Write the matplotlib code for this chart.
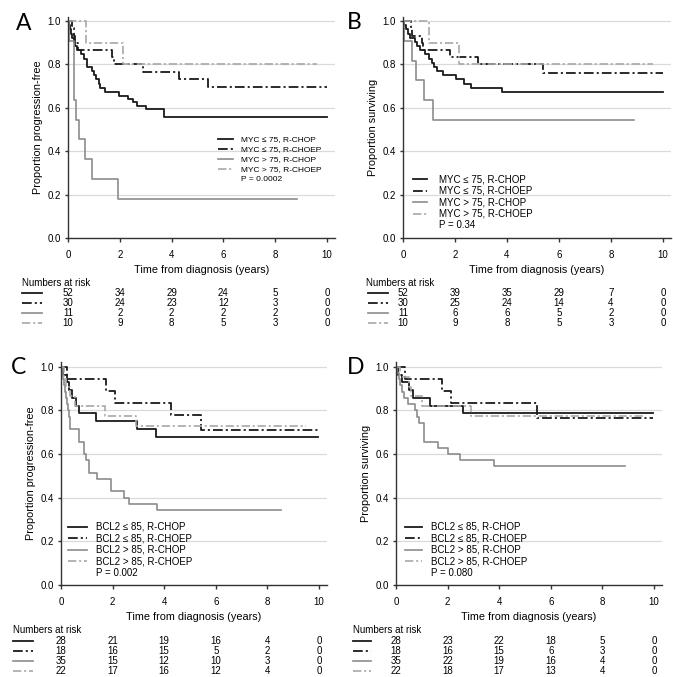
import matplotlib
matplotlib.use('Agg')
import matplotlib.pyplot as plt
from matplotlib.lines import Line2D
from matplotlib.transforms import blended_transform_factory

plt.rcParams['font.family'] = ['Liberation Sans', 'DejaVu Sans']
plt.rcParams['lines.scale_dashes'] = False

W, H = 673, 677

years = [0, 2, 4, 6, 8, 10]

# Panel A: MYC, progression-free survival
a_lo_chop_t = [0, 0.03, 0.07, 0.12, 0.17, 0.22, 0.28, 0.34, 0.5, 0.6, 0.74, 0.94, 1.0, 1.1, 1.18, 1.25, 1.42, 1.97, 2.32, 2.5, 2.65, 3.0, 3.72, 10.0]
a_lo_chop_s = [1.0, 0.981, 0.962, 0.942, 0.923, 0.904, 0.885, 0.865, 0.846, 0.827, 0.788, 0.769, 0.750, 0.731, 0.712, 0.692, 0.673, 0.655, 0.640, 0.625, 0.610, 0.595, 0.557, 0.557]
a_lo_choep_t = [0, 0.15, 0.22, 0.28, 0.38, 1.69, 1.78, 2.9, 4.28, 5.42, 10.0]
a_lo_choep_s = [1.0, 0.967, 0.933, 0.9, 0.867, 0.833, 0.8, 0.767, 0.733, 0.695, 0.695]
a_hi_chop_t = [0, 0.02, 0.22, 0.32, 0.41, 0.67, 0.93, 1.94, 8.84]
a_hi_chop_s = [1.0, 0.909, 0.636, 0.545, 0.455, 0.364, 0.273, 0.182, 0.182]
a_hi_choep_t = [0, 0.69, 2.13, 9.6]
a_hi_choep_s = [1.0, 0.9, 0.8, 0.8]
a_risk = [[52, 34, 29, 24, 5, 0], [30, 24, 23, 12, 3, 0], [11, 2, 2, 2, 2, 0], [10, 9, 8, 5, 3, 0]]

# Panel B: MYC, overall survival
b_lo_chop_t = [0, 0.05, 0.12, 0.2, 0.28, 0.45, 0.55, 0.65, 0.85, 1.0, 1.12, 1.18, 1.3, 1.55, 2.05, 2.35, 2.62, 3.8, 10.0]
b_lo_chop_s = [1.0, 0.981, 0.962, 0.942, 0.923, 0.904, 0.885, 0.865, 0.846, 0.827, 0.808, 0.788, 0.769, 0.750, 0.731, 0.712, 0.692, 0.673, 0.673]
b_lo_choep_t = [0, 0.3, 0.33, 0.72, 0.76, 1.8, 2.9, 5.4, 10.0]
b_lo_choep_s = [1.0, 0.967, 0.933, 0.9, 0.867, 0.833, 0.8, 0.762, 0.762]
b_hi_chop_t = [0, 0.02, 0.33, 0.5, 0.8, 1.15, 8.87]
b_hi_chop_s = [1.0, 0.909, 0.818, 0.727, 0.636, 0.545, 0.545]
b_hi_choep_t = [0, 1.01, 2.15, 9.6]
b_hi_choep_s = [1.0, 0.9, 0.8, 0.8]
b_risk = [[52, 39, 35, 29, 7, 0], [30, 25, 24, 14, 4, 0], [11, 6, 6, 5, 2, 0], [10, 9, 8, 5, 3, 0]]

# Panel C: BCL2, progression-free survival
c_lo_chop_t = [0, 0.09, 0.22, 0.31, 0.41, 0.57, 0.7, 1.35, 2.94, 3.69, 9.95]
c_lo_chop_s = [1.0, 0.964, 0.929, 0.893, 0.857, 0.821, 0.786, 0.75, 0.714, 0.679, 0.679]
c_lo_choep_t = [0, 0.25, 1.76, 2.1, 4.28, 5.41, 10.0]
c_lo_choep_s = [1.0, 0.944, 0.889, 0.833, 0.778, 0.708, 0.708]
c_hi_chop_t = [0, 0.03, 0.07, 0.1, 0.14, 0.18, 0.22, 0.27, 0.32, 0.36, 0.68, 0.9, 0.98, 1.07, 1.4, 1.92, 2.45, 2.62, 3.71, 8.52]
c_hi_chop_s = [1.0, 0.971, 0.943, 0.914, 0.886, 0.857, 0.829, 0.8, 0.771, 0.714, 0.657, 0.6, 0.571, 0.514, 0.486, 0.429, 0.4, 0.371, 0.343, 0.343]
c_hi_choep_t = [0, 0.1, 0.2, 0.35, 0.55, 1.7, 2.92, 9.5]
c_hi_choep_s = [1.0, 0.955, 0.909, 0.864, 0.818, 0.773, 0.727, 0.727]
c_risk = [[28, 21, 19, 16, 4, 0], [18, 16, 15, 5, 2, 0], [35, 15, 12, 10, 3, 0], [22, 17, 16, 12, 4, 0]]

# Panel D: BCL2, overall survival
d_lo_chop_t = [0, 0.09, 0.22, 0.5, 0.65, 1.32, 2.58, 9.95]
d_lo_chop_s = [1.0, 0.964, 0.929, 0.893, 0.857, 0.821, 0.786, 0.786]
d_lo_choep_t = [0, 0.33, 1.77, 2.15, 5.45, 9.95]
d_lo_choep_s = [1.0, 0.944, 0.889, 0.833, 0.764, 0.764]
d_hi_chop_t = [0, 0.05, 0.1, 0.15, 0.22, 0.3, 0.45, 0.75, 0.82, 0.9, 1.1, 1.62, 2.03, 2.48, 3.8, 8.88]
d_hi_chop_s = [1.0, 0.971, 0.943, 0.914, 0.886, 0.857, 0.829, 0.8, 0.771, 0.743, 0.657, 0.629, 0.6, 0.571, 0.543, 0.543]
d_hi_choep_t = [0, 0.15, 0.5, 0.6, 1.0, 2.9, 9.6]
d_hi_choep_s = [1.0, 0.955, 0.909, 0.864, 0.818, 0.773, 0.773]
d_risk = [[28, 23, 22, 18, 5, 0], [18, 16, 15, 6, 3, 0], [35, 22, 19, 16, 4, 0], [22, 18, 17, 13, 4, 0]]

myc_labels = ['MYC \u2264 75, R-CHOP', 'MYC \u2264 75, R-CHOEP', 'MYC > 75, R-CHOP', 'MYC > 75, R-CHOEP']
bcl2_labels = ['BCL2 \u2264 85, R-CHOP', 'BCL2 \u2264 85, R-CHOEP', 'BCL2 > 85, R-CHOP', 'BCL2 > 85, R-CHOEP']

# line styles for the four groups
styles = [
    dict(color='#1a1a1a', linestyle='-', linewidth=1.3),
    dict(color='#1a1a1a', linestyle=(0, (7, 2.2, 1.5, 2.2)), linewidth=1.3),
    dict(color='#8c8c8c', linestyle='-', linewidth=1.2),
    dict(color='#a8a8a8', linestyle=(0, (6, 2, 1.5, 2)), linewidth=1.2),
]

fig = plt.figure(figsize=(W / 100, H / 100), dpi=100)


def draw_panel(rect, letter, letter_xy, curves, labels, pval, ylabel,
               leg_x, leg_tx, leg_y, leg_fs, risk, nar_x, sample_x, nar_y, rows_y):
    ax = fig.add_axes(rect)
    for (t, s), st in zip(curves, styles):
        ax.step(t, s, where='post', **st)

    ax.set_xlim(0, 10.3)
    ax.set_ylim(0, 1.02)
    ax.set_yticks([0, 0.2, 0.4, 0.6, 0.8, 1.0])
    ax.set_yticklabels(['0.0', '0.2', '0.4', '0.6', '0.8', '1.0'])
    ax.set_xticks(years)
    ax.grid(axis='y', color='#dadada', linewidth=0.9)
    ax.set_axisbelow(True)
    for side in ['top', 'right']:
        ax.spines[side].set_visible(False)
    for side in ['left', 'bottom']:
        ax.spines[side].set_color('#333333')
        ax.spines[side].set_linewidth(1.0)
    ax.tick_params(axis='x', direction='out', length=3, width=1, pad=5.5, labelsize=7, color='#333333')
    ax.tick_params(axis='y', direction='out', length=2.5, width=1, pad=2.5, labelsize=7, color='#333333')

    ax.set_xlabel('Time from diagnosis (years)', fontsize=7.8, labelpad=4)
    ax.set_ylabel(ylabel, fontsize=7.8)
    ax.yaxis.set_label_coords(-0.094, 0.5)

    # legend drawn by hand
    for i, (lab, st) in enumerate(zip(labels, styles)):
        ax.plot(leg_x, [leg_y[i], leg_y[i]], **st)
        ax.text(leg_tx, leg_y[i], lab, fontsize=leg_fs, va='center', ha='left')
    ax.text(leg_tx, leg_y[4], pval, fontsize=leg_fs, va='center', ha='left')

    # panel letter
    fig.text(letter_xy[0] / W, 1 - letter_xy[1] / H, letter, fontsize=16.5,
             family='Lato', ha='center', va='center')

    # numbers at risk table
    fig.text(nar_x / W, 1 - nar_y / H, 'Numbers at risk', fontsize=7, ha='left', va='center')
    trans = blended_transform_factory(ax.transData, fig.transFigure)
    for row, st, py in zip(risk, styles, rows_y):
        fig.add_artist(Line2D([sample_x[0] / W, sample_x[1] / W], [1 - py / H, 1 - py / H], **st))
        for yr, n in zip(years, row):
            fig.text(yr, 1 - py / H, str(n), transform=trans, fontsize=7, ha='center', va='center')
    return ax


top_rows = [293, 303, 313, 322.5]
bot_rows = [640.5, 651, 661, 671]
bcl_leg_y = [0.267, 0.214, 0.161, 0.108, 0.055]

draw_panel([68 / W, 0.6484, 266.8 / W, 0.3269], 'A', (23.5, 23.5),
           [(a_lo_chop_t, a_lo_chop_s), (a_lo_choep_t, a_lo_choep_s),
            (a_hi_chop_t, a_hi_chop_s), (a_hi_choep_t, a_hi_choep_s)],
           myc_labels, 'P = 0.0002', 'Proportion progression-free',
           [5.8, 6.38], 6.68, [0.455, 0.409, 0.363, 0.317, 0.271], 6.0,
           a_risk, 22, [22, 42], 283, top_rows)

draw_panel([403 / W, 0.6484, 267.8 / W, 0.3269], 'B', (354.5, 22.5),
           [(b_lo_chop_t, b_lo_chop_s), (b_lo_choep_t, b_lo_choep_s),
            (b_hi_chop_t, b_hi_chop_s), (b_hi_choep_t, b_hi_choep_s)],
           myc_labels, 'P = 0.34', 'Proportion surviving',
           [0.37, 0.93], 1.4, [0.27, 0.217, 0.164, 0.111, 0.058], 7.0,
           b_risk, 366, [368, 388], 283, top_rows)

draw_panel([61 / W, 0.1359, 265.7 / W, 0.3289], 'C', (18.5, 367.5),
           [(c_lo_chop_t, c_lo_chop_s), (c_lo_choep_t, c_lo_choep_s),
            (c_hi_chop_t, c_hi_chop_s), (c_hi_choep_t, c_hi_choep_s)],
           bcl2_labels, 'P = 0.002', 'Proportion progression-free',
           [0.27, 1.0], 1.34, bcl_leg_y, 7.0,
           c_risk, 13, [13, 33], 630, bot_rows)

draw_panel([396 / W, 0.1359, 265.7 / W, 0.3289], 'D', (355.5, 367.5),
           [(d_lo_chop_t, d_lo_chop_s), (d_lo_choep_t, d_lo_choep_s),
            (d_hi_chop_t, d_hi_chop_s), (d_hi_choep_t, d_hi_choep_s)],
           bcl2_labels, 'P = 0.080', 'Proportion surviving',
           [0.35, 0.99], 1.36, bcl_leg_y, 7.0,
           d_risk, 353, [353, 371], 630, bot_rows)

fig.savefig('out.png', dpi=100)
